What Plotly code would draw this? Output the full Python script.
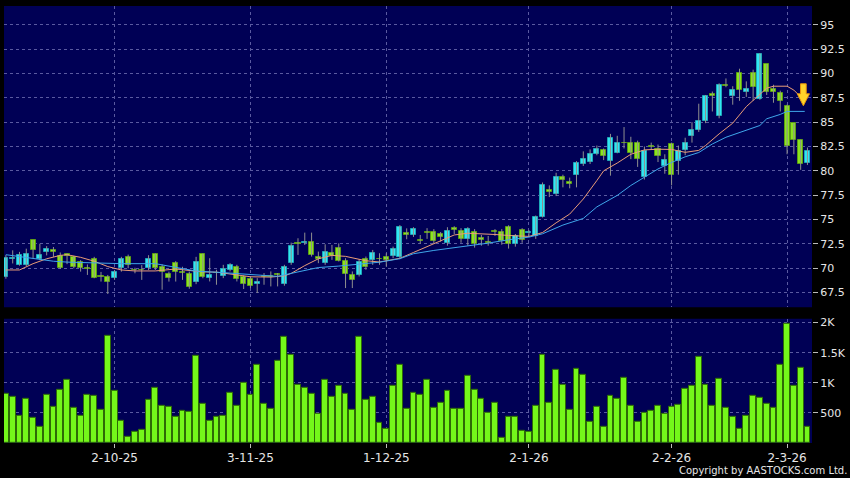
import plotly.graph_objects as go

# ---------------- data ----------------
tick_idx = [16, 36, 56, 77, 98, 115]
tick_txt = ["2-10-25", "3-11-25", "1-12-25", "2-1-26", "2-2-26", "2-3-26"]

opens = [69.05, 70.95, 70.30, 70.30, 72.84, 70.98, 71.70, 71.85, 71.25, 71.49,
         71.15, 70.64, 70.00, 70.98, 69.12, 69.05, 68.95, 69.97, 71.15, 69.80,
         69.80, 69.97, 71.49, 70.13, 69.36, 70.47, 69.55, 69.36, 68.55, 71.49,
         68.96, 69.48, 69.13, 69.82, 70.09, 69.03, 68.86, 68.38, 69.13, 69.10,
         69.30, 68.38, 70.50, 72.54, 72.54, 72.72, 71.18, 70.50, 71.59, 72.10,
         70.77, 69.24, 69.24, 70.91, 70.84, 70.90, 71.18, 71.25, 71.11, 73.57,
         73.40, 72.82, 73.73, 73.73, 73.46, 72.53, 74.08, 73.84, 72.95, 73.73,
         73.05, 72.62, 73.84, 73.75, 74.25, 72.49, 73.91, 73.58, 73.30, 75.27,
         78.05, 77.58, 79.34, 78.90, 79.61, 80.70, 80.86, 81.71, 82.12, 81.03,
         81.88, 82.90, 82.90, 82.90, 79.34, 82.60, 82.20, 80.46, 82.73, 81.03,
         82.10, 83.55, 84.24, 85.15, 87.90, 85.67, 88.78, 87.65, 90.04, 88.10,
         90.04, 87.40, 90.96, 88.44, 88.00, 86.63, 84.90, 83.20, 80.80]
highs = [71.35, 71.82, 71.66, 71.99, 72.90, 72.50, 72.25, 72.16, 71.60, 71.50,
         71.25, 70.81, 70.37, 71.15, 69.60, 69.29, 69.80, 71.15, 71.38, 70.03,
         70.30, 71.32, 71.49, 70.37, 69.63, 70.71, 70.13, 69.63, 71.15, 71.49,
         71.01, 69.82, 70.33, 70.50, 70.33, 69.24, 69.13, 68.96, 69.48, 69.65,
         69.48, 70.33, 72.61, 73.06, 73.64, 73.64, 71.69, 72.44, 72.37, 72.54,
         71.01, 69.65, 70.91, 71.18, 71.86, 71.52, 71.52, 72.20, 74.42, 74.08,
         74.20, 73.40, 74.10, 74.00, 73.70, 74.20, 74.30, 74.10, 74.20, 74.00,
         73.40, 73.30, 74.00, 74.00, 74.40, 73.50, 74.10, 73.90, 75.40, 78.80,
         78.50, 79.80, 79.60, 79.30, 81.00, 82.00, 82.20, 82.60, 82.30, 83.80,
         83.60, 84.50, 83.50, 83.10, 82.50, 82.90, 82.70, 81.70, 82.90, 82.60,
         83.40, 85.00, 86.90, 87.80, 88.15, 89.00, 89.50, 88.70, 90.50, 89.20,
         90.40, 92.10, 90.96, 88.85, 88.24, 86.80, 84.90, 83.20, 82.40]
lows = [68.90, 70.47, 70.24, 70.20, 70.98, 70.81, 71.30, 71.15, 69.90, 70.40,
        69.97, 69.63, 69.29, 68.95, 68.61, 67.33, 68.78, 69.63, 69.97, 69.46,
        68.78, 69.80, 69.80, 67.77, 68.61, 68.61, 68.78, 67.87, 68.34, 68.95,
        68.62, 68.28, 68.96, 69.65, 68.62, 67.84, 67.94, 67.43, 68.28, 68.11,
        68.11, 68.18, 70.33, 71.35, 72.37, 71.18, 70.50, 70.33, 70.84, 70.67,
        67.94, 67.94, 69.13, 69.82, 70.33, 70.33, 70.16, 71.01, 70.91, 72.96,
        73.20, 72.50, 73.00, 72.50, 72.70, 72.30, 73.50, 72.60, 72.30, 72.10,
        72.30, 72.30, 73.30, 72.40, 72.00, 72.20, 72.60, 73.20, 73.00, 75.20,
        77.30, 77.40, 78.30, 78.20, 78.30, 80.50, 80.70, 81.60, 81.10, 79.50,
        81.80, 82.30, 81.20, 80.40, 79.10, 82.20, 80.90, 79.70, 78.50, 79.60,
        81.60, 82.90, 84.00, 84.90, 86.10, 85.40, 88.60, 86.80, 87.20, 87.60,
        87.20, 87.30, 87.80, 87.00, 86.10, 81.70, 81.70, 80.10, 80.60]
closes = [71.08, 71.00, 71.38, 71.49, 71.82, 71.38, 71.99, 71.65, 70.03, 71.25,
          70.13, 69.97, 69.95, 69.02, 69.08, 68.55, 69.63, 70.98, 70.30, 69.75,
          69.78, 70.98, 69.97, 69.63, 69.02, 69.63, 69.50, 68.00, 70.57, 69.12,
          69.31, 69.45, 69.95, 70.33, 68.86, 68.38, 68.18, 68.59, 69.10, 69.08,
          69.28, 70.09, 72.27, 72.50, 72.72, 71.35, 70.91, 71.69, 71.25, 70.77,
          69.41, 68.79, 70.67, 70.09, 71.59, 70.88, 70.84, 71.93, 74.18, 73.40,
          73.98, 72.78, 73.56, 72.81, 73.22, 73.84, 73.90, 72.95, 73.97, 72.43,
          72.88, 72.58, 73.67, 72.73, 72.49, 73.30, 72.90, 73.75, 75.27, 78.49,
          77.81, 79.41, 79.07, 78.66, 80.80, 81.20, 81.71, 82.22, 81.54, 83.34,
          82.90, 82.85, 81.88, 81.20, 82.05, 82.45, 81.54, 81.10, 79.60, 82.05,
          82.90, 84.24, 85.15, 87.65, 87.65, 88.78, 88.75, 88.33, 88.33, 88.45,
          88.67, 91.99, 88.10, 88.10, 87.14, 82.53, 83.20, 80.70, 82.00]

volume = [817, 767, 456, 728, 411, 272, 806, 600, 889, 1056,
          589, 456, 806, 789, 556, 1789, 867, 372, 111, 194,
          222, 722, 911, 622, 600, 428, 539, 511, 1444, 656,
          372, 428, 456, 833, 622, 994, 794, 1306, 656, 567,
          1361, 1761, 1467, 967, 917, 817, 483, 1044, 767, 950,
          811, 550, 1756, 717, 767, 339, 233, 956, 1300, 567,
          839, 794, 1050, 589, 661, 872, 561, 561, 1122, 889,
          733, 500, 667, 89, 428, 428, 206, 183, 622, 1472,
          661, 1222, 967, 544, 1233, 1128, 344, 600, 272, 778,
          728, 1078, 617, 344, 494, 539, 617, 478, 594, 628,
          894, 950, 1433, 972, 611, 1072, 578, 428, 233, 456,
          783, 744, 644, 578, 1300, 1972, 944, 1250, 267]

ma10_idx = [0, 2, 4, 6, 8, 9, 11, 13, 15, 17, 19, 22, 25, 27, 29, 31, 33, 36, 39, 41,
            42, 44, 46, 48, 50, 53, 55, 56, 58, 60, 62, 64, 66, 68, 70, 72, 74, 77, 79, 81,
            83, 85, 87, 88, 90, 92, 94, 96, 98, 100, 102, 103, 105, 107, 109, 111, 112, 113,
            115, 116, 117.5]
ma10_val = [69.80, 69.80, 70.45, 70.95, 71.30, 71.37, 71.10, 70.70, 70.15, 69.80, 69.70,
            69.70, 69.90, 69.75, 69.60, 69.58, 69.38, 69.10, 69.07, 69.20, 69.45, 70.25,
            70.95, 71.30, 71.20, 70.75, 70.62, 70.75, 71.00, 71.60, 72.20, 72.85, 73.40,
            73.58, 73.55, 73.45, 73.35, 73.25, 73.65, 74.65, 75.55, 77.10, 79.00, 80.00,
            80.80, 81.70, 82.15, 82.22, 82.20, 81.90, 82.10, 82.60, 83.80, 84.90, 86.60,
            87.80, 88.50, 88.70, 88.70, 88.30, 87.25]
ma20_idx = [0, 4, 7, 9, 13, 17, 22, 25, 28, 33, 38, 40, 43, 46, 49, 52, 55, 58, 60, 63,
            66, 69, 71, 74, 77, 79, 82, 85, 87, 90, 92, 94, 96, 98, 100, 102, 104, 106, 109,
            111, 112, 114, 115, 117.6]
ma20_val = [71.37, 70.96, 70.70, 70.61, 70.51, 70.45, 70.45, 70.10, 69.69, 69.48, 69.25,
            69.14, 69.60, 70.05, 70.20, 70.38, 70.60, 70.96, 71.47, 71.81, 72.09, 72.33,
            72.56, 72.91, 73.18, 73.52, 74.42, 75.10, 76.29, 77.47, 78.49, 79.34, 80.19,
            80.86, 81.44, 81.88, 82.76, 83.45, 84.21, 84.66, 85.35, 85.80, 86.11, 86.11]

price_ticks = [67.5, 70, 72.5, 75, 77.5, 80, 82.5, 85, 87.5, 90, 92.5, 95]
vol_ticks = [500, 1000, 1500, 2000]
vol_tick_txt = ["500", "1K", "1.5K", "2K"]

arrow_idx, arrow_top, arrow_tip = 117.4, 88.95, 86.69

# ---------------- styling ----------------
NAVY = "#000055"
GRID = "#5a5aa0"
GRIDDASH = "3px,3px"
CYAN = "#30E6F4"
CYAN_EDGE = "#1FA9B8"
GREEN = "#8AE41E"
GREEN_EDGE = "#5C9E14"
VOLG = "#74F71A"
TXT = "#e6e6e6"
FONT = "DejaVu Sans"

n = len(closes)
idx = list(range(n))

fig = go.Figure()

# wicks
wx, wy = [], []
for i in idx:
    wx += [i, i, None]
    wy += [lows[i], highs[i], None]
fig.add_trace(go.Scatter(x=wx, y=wy, mode="lines", line=dict(color="#8f8f8f", width=1),
                         hoverinfo="skip", showlegend=False, xaxis="x", yaxis="y"))

# bodies
up = [c > o for o, c in zip(opens, closes)]
body_h = [max(abs(c - o), 0.06) for o, c in zip(opens, closes)]
body_b = [min(o, c) for o, c in zip(opens, closes)]
body_col = [CYAN if u else GREEN for u in up]
edge_col = [CYAN_EDGE if u else GREEN_EDGE for u in up]
fig.add_trace(go.Bar(x=idx, y=body_h, base=body_b, width=0.74,
                     marker=dict(color=body_col, line=dict(color=edge_col, width=1)),
                     hoverinfo="skip", showlegend=False, xaxis="x", yaxis="y"))

# moving averages
fig.add_trace(go.Scatter(x=ma10_idx, y=ma10_val, mode="lines",
                         line=dict(color="#E99C78", width=1), hoverinfo="skip",
                         showlegend=False, xaxis="x", yaxis="y"))
fig.add_trace(go.Scatter(x=ma20_idx, y=ma20_val, mode="lines",
                         line=dict(color="#3FA6EA", width=1), hoverinfo="skip",
                         showlegend=False, xaxis="x", yaxis="y"))

# volume
fig.add_trace(go.Bar(x=idx, y=volume, width=0.86,
                     marker=dict(color=VOLG, line=dict(color="#2e6a06", width=1)),
                     hoverinfo="skip", showlegend=False, xaxis="x2", yaxis="y2"))

xr = [-0.28, n - 1 + 0.67]
common_x = dict(range=xr, tickmode="array", tickvals=tick_idx, showgrid=True,
                gridcolor=GRID, griddash=GRIDDASH, gridwidth=1, zeroline=False,
                showline=False, fixedrange=True)

fig.update_layout(
    width=850, height=478, autosize=False,
    margin=dict(l=4, r=35, t=5, b=35),
    paper_bgcolor="#000000", plot_bgcolor="#000000",
    bargap=0, barmode="overlay",
    font=dict(family=FONT, color=TXT, size=11),
    xaxis=dict(domain=[0, 1], anchor="y", showticklabels=False, ticks="", **common_x),
    xaxis2=dict(domain=[0, 1], anchor="y2", showticklabels=True, ticktext=tick_txt,
                ticks="outside", ticklen=4, tickcolor="#bbbbbb",
                tickfont=dict(family=FONT, size=12, color=TXT), **common_x),
    yaxis=dict(domain=[0.3105, 1], anchor="x", side="right", range=[65.96, 96.95],
               tickmode="array", tickvals=price_ticks,
               ticktext=[f"{v:g}" for v in price_ticks],
               ticks="outside", ticklen=5, tickcolor="#bbbbbb",
               tickfont=dict(family=FONT, size=11, color=TXT),
               showgrid=True, gridcolor=GRID, griddash=GRIDDASH, gridwidth=1,
               zeroline=False, showline=False, fixedrange=True),
    yaxis2=dict(domain=[0, 0.2842], anchor="x2", side="right", range=[0, 2063],
                tickmode="array", tickvals=vol_ticks, ticktext=vol_tick_txt,
                ticks="outside", ticklen=5, tickcolor="#bbbbbb",
                tickfont=dict(family=FONT, size=11, color=TXT),
                showgrid=True, gridcolor=GRID, griddash=GRIDDASH, gridwidth=1,
                zeroline=False, showline=False, fixedrange=True),
    shapes=[
        dict(type="rect", xref="x domain", yref="y domain", x0=0, x1=1, y0=0, y1=1,
             fillcolor=NAVY, line=dict(width=0), layer="below"),
        dict(type="rect", xref="x2 domain", yref="y2 domain", x0=0, x1=1, y0=0, y1=1,
             fillcolor=NAVY, line=dict(width=0), layer="below"),
        dict(type="path", xref="x", yref="y",
             path=(f"M {arrow_idx-0.42},{arrow_top} L {arrow_idx+0.42},{arrow_top} "
                   f"L {arrow_idx+0.42},{(arrow_top+arrow_tip)/2+0.1} "
                   f"L {arrow_idx+0.9},{(arrow_top+arrow_tip)/2+0.1} "
                   f"L {arrow_idx},{arrow_tip} "
                   f"L {arrow_idx-0.9},{(arrow_top+arrow_tip)/2+0.1} "
                   f"L {arrow_idx-0.42},{(arrow_top+arrow_tip)/2+0.1} Z"),
             fillcolor="#FFD42A", line=dict(color="#E8940C", width=1), layer="above"),
    ],
    annotations=[
        dict(text="Copyright by AASTOCKS.com Ltd.", xref="paper", yref="paper",
             x=1.046, y=-0.062, xanchor="right", yanchor="middle", showarrow=False,
             font=dict(family=FONT, size=10, color=TXT)),
    ],
)

fig.write_html("out.html", config={"displayModeBar": False},
               post_script="document.body.style.margin='0';document.body.style.background='#000';")
